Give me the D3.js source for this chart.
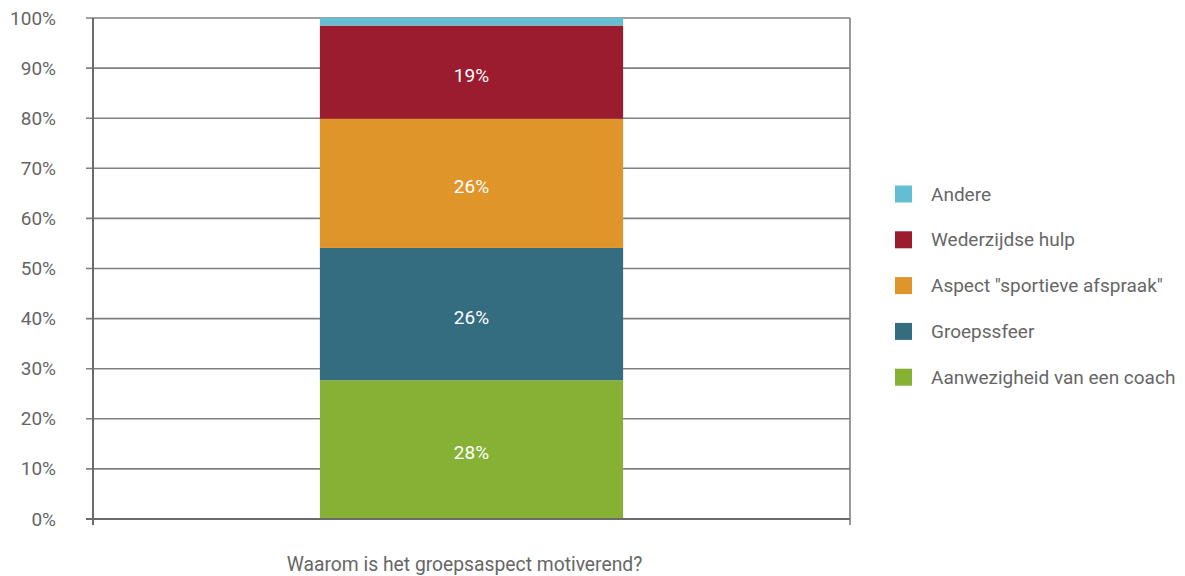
<!DOCTYPE html>
<html><head><meta charset="utf-8">
<script src="https://cdn.jsdelivr.net/npm/d3@7/dist/d3.min.js"></script>
<style>
body{margin:0;background:#fff;}
text{font-family:"Roboto",sans-serif;}
</style></head>
<body><svg id="c" width="1185" height="576"></svg>
<script>
const categories = ["Waarom is het groepsaspect motiverend?"];
const seriesNames = ["Aanwezigheid van een coach","Groepssfeer","Aspect \"sportieve afspraak\"","Wederzijdse hulp","Andere"];
const seriesValues = [27.7, 26.4, 25.8, 18.6, 1.5];
const seriesLabels = ["28%","26%","26%","19%",""];
const seriesColors = ["#86B135","#356D80","#E0952A","#9B1C2E","#63BDD3"];
const yTicks = [0,10,20,30,40,50,60,70,80,90,100];

const svg = d3.select("#c");
const L=93, R=850, T=18, B=519;
const y = d3.scaleLinear().domain([0,100]).range([B,T]);
const x = d3.scaleBand().domain(categories).range([L,R]).paddingInner(0.428).paddingOuter(0.428);
const axisCol="#6b6b6b";

// gridlines
svg.append("g").selectAll("line").data(yTicks).join("line")
  .attr("x1",L-7).attr("x2",R).attr("y1",d=>y(d)).attr("y2",d=>y(d))
  .attr("stroke","#808080").attr("stroke-width",1.6);
// right border line
svg.append("line").attr("x1",R).attr("x2",R).attr("y1",T).attr("y2",B+6).attr("stroke","#808080").attr("stroke-width",1.6);

// stacked bars
let cum=0;
const segs = seriesValues.map((v,i)=>{const s={name:seriesNames[i],y0:cum,y1:cum+v,label:seriesLabels[i],color:seriesColors[i]};cum+=v;return s;});
const cat = categories[0];
svg.append("g").selectAll("rect").data(segs).join("rect")
  .attr("x",x(cat)).attr("width",x.bandwidth())
  .attr("y",d=>y(d.y1)).attr("height",d=>y(d.y0)-y(d.y1))
  .attr("fill",d=>d.color);
svg.append("g").selectAll("text").data(segs.filter(d=>d.label)).join("text")
  .attr("x",x(cat)+x.bandwidth()/2).attr("y",d=>y((d.y0+d.y1)/2))
  .attr("dy","0.5em").attr("text-anchor","middle").attr("fill","#fff")
  .attr("font-size",19).text(d=>d.label);

// y axis
const yAxis = d3.axisLeft(y).tickValues(yTicks).tickFormat(d=>d+"%").tickSize(0).tickPadding(37);
const gy = svg.append("g").attr("transform",`translate(${L},0)`).call(yAxis);
gy.select(".domain").remove();
gy.selectAll("text").attr("font-size",19).attr("fill","#666").attr("font-family",'"Roboto",sans-serif');
svg.append("line").attr("x1",L).attr("x2",L).attr("y1",T).attr("y2",B+6).attr("stroke",axisCol).attr("stroke-width",2);

// x axis
const xAxis = d3.axisBottom(x).tickSize(0).tickPadding(38);
const gx = svg.append("g").attr("transform",`translate(0,${B})`).call(xAxis);
gx.select(".domain").remove();
gx.selectAll("text").attr("font-size",19.3).attr("fill","#666").attr("dx",-7).attr("font-family",'"Roboto",sans-serif');
svg.append("line").attr("x1",L-7).attr("x2",R).attr("y1",B).attr("y2",B).attr("stroke",axisCol).attr("stroke-width",2.2);

// legend
const legendOrder = [4,3,2,1,0];
const lg = svg.append("g").selectAll("g").data(legendOrder).join("g")
  .attr("transform",(d,i)=>`translate(895,${194+i*45.8})`);
lg.append("rect").attr("x",0).attr("y",-8.5).attr("width",17).attr("height",17).attr("fill",d=>seriesColors[d]);
lg.append("text").attr("x",36).attr("y",0).attr("dy","0.35em").attr("font-size",19).attr("fill","#666").text(d=>seriesNames[d]);
</script></body></html>
